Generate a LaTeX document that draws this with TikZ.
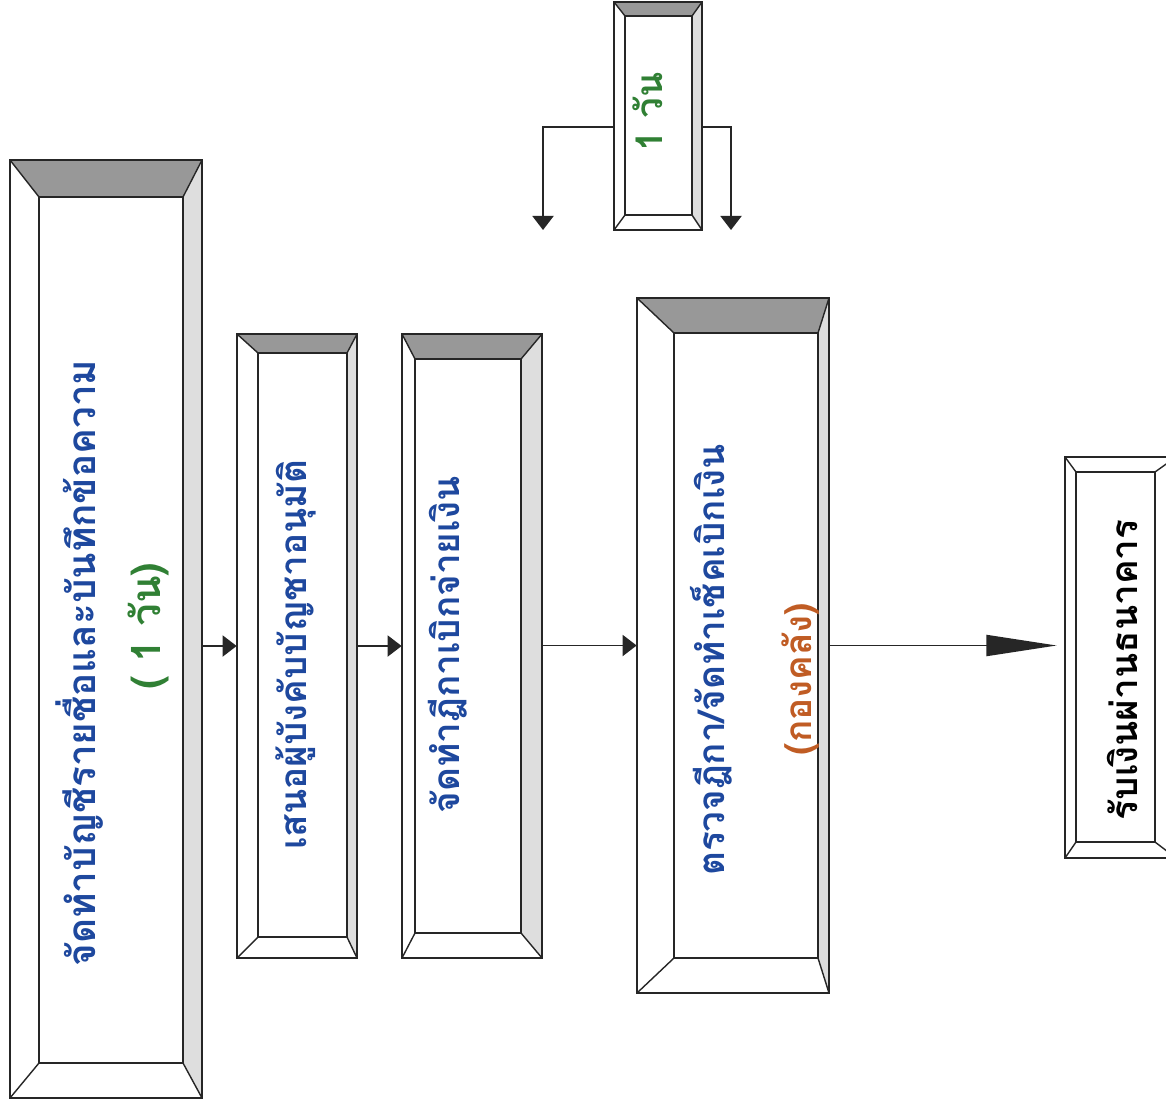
\documentclass[tikz,border=0pt]{standalone}
\usepackage{fontspec}
\usepackage{xcolor}
\usepackage{tikz}
\newfontfamily\thaifont[Script=Thai]{Loma}
\definecolor{stepblue}{RGB}{30, 72, 158}
\definecolor{daygreen}{RGB}{48, 128, 52}
\definecolor{deptorange}{RGB}{192, 92, 36}
\definecolor{bevelgray}{RGB}{152, 152, 152}
\definecolor{sidegray}{RGB}{222, 222, 222}
\usetikzlibrary{arrows.meta, positioning, calc, fit}

\tikzset{
    frame/.style={draw=black!85, line width=1pt},
    bevel/.style={draw=black!85, line width=0.8pt},
    steptext/.style={rotate=90, inner sep=0pt, text=stepblue,
        font=\thaifont\bfseries\fontsize{21}{25}\selectfont},
    bigtext/.style={steptext, font=\thaifont\bfseries\fontsize{22}{26}\selectfont},
    flow/.style={draw=black!85, line width=1pt, -{Triangle[length=8pt, width=12pt]}},
    bigflow/.style={draw=black!85, line width=1pt, -{Triangle[length=40pt, width=12pt]}},
}

% bevelled frame: name, outer NW, outer SE, inner NW, inner SE, top fill, side fill
\newcommand{\bevelbox}[7]{%
    \coordinate (#1-onw) at #2;
    \coordinate (#1-ose) at #3;
    \coordinate (#1-inw) at #4;
    \coordinate (#1-ise) at #5;
    \coordinate (#1-one) at (#1-ose |- #1-onw);
    \coordinate (#1-osw) at (#1-onw |- #1-ose);
    \coordinate (#1-ine) at (#1-ise |- #1-inw);
    \coordinate (#1-isw) at (#1-inw |- #1-ise);
    \fill[#6] (#1-onw) -- (#1-one) -- (#1-ine) -- (#1-inw) -- cycle;
    \fill[#7] (#1-one) -- (#1-ose) -- (#1-ise) -- (#1-ine) -- cycle;
    \draw[frame] (#1-onw) rectangle (#1-ose);
    \draw[frame] (#1-inw) rectangle (#1-ise);
    \draw[bevel] (#1-onw) -- (#1-inw) (#1-one) -- (#1-ine)
        (#1-ose) -- (#1-ise) (#1-osw) -- (#1-isw);
    \node[fit=(#1-onw)(#1-ose), inner sep=0pt] (#1) {};
}

\begin{document}
\begin{tikzpicture}[x=0.02cm, y=-0.02cm]
    \clip (0,0) rectangle (1166,1109);
    \fill[white] (0,0) rectangle (1166,1109);

    % the frames
    \bevelbox{list}{(10,160)}{(202,1098)}{(39,197)}{(183,1063)}{bevelgray}{sidegray}
    \bevelbox{propose}{(237,334)}{(357,958)}{(258,353)}{(347,937)}{bevelgray}{sidegray}
    \bevelbox{voucher}{(402,334)}{(542,958)}{(415,359)}{(521,933)}{bevelgray}{sidegray}
    \bevelbox{cheque}{(637,298)}{(829,993)}{(674,333)}{(818,958)}{bevelgray}{sidegray}
    \bevelbox{day}{(614,2)}{(702,230)}{(625,16)}{(692,215)}{bevelgray}{sidegray}
    \bevelbox{bank}{(1065,457)}{(1176,858)}{(1076,472)}{(1155,842)}{white}{white}

    % the texts
    \node[bigtext] (listtxt) at (80,663) {จัดทำบัญชีรายชื่อและบันทึกข้อความ};
    \node[bigtext, text=daygreen, font=\thaifont\bfseries\fontsize{23}{27}\selectfont]
        (listday) at (148,626) {( 1 วัน)};
    \node[steptext] (proposetxt) at (296,655) {เสนอผู้บังคับบัญชาอนุมัติ};
    \node[steptext] (vouchertxt) at (448,645) {จัดทำฎีกาเบิกจ่ายเงิน};
    \node[steptext] (chequetxt) at (711,660) {ตรวจฎีกา/จัดทำเช็คเบิกเงิน};
    \node[steptext, text=deptorange] (chequedept) at (800,679) {(กองคลัง)};
    \node[steptext, text=black] (banktxt) at (1122,670) {รับเงินผ่านธนาคาร};
    \node[steptext, text=daygreen] (daytxt) at (648,112) {1 วัน};

    % the connectors
    \coordinate (dayleft) at (543,230);
    \coordinate (dayright) at (731,230);
    \draw[flow] (list.east |- propose.west) -- (propose.west);
    \draw[flow] (propose.east |- voucher.west) -- (voucher.west);
    \draw[flow] (voucher.east |- cheque.west) -- (cheque.west);
    \draw[bigflow, shorten >=0.16cm] (cheque.east) -- (cheque.east -| bank.west);
    \draw[flow] ([yshift=-0.22cm]day.west) -| (dayleft);
    \draw[flow] ([yshift=-0.22cm]day.east) -| (dayright);
\end{tikzpicture}
\end{document}
